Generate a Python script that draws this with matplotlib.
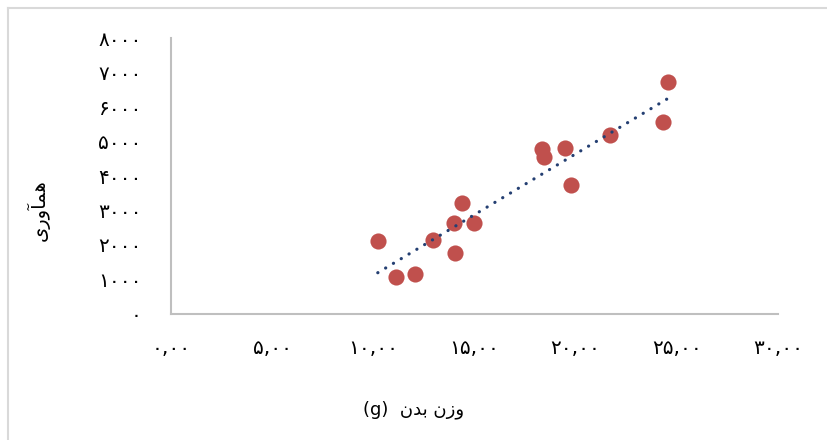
import numpy as np
import matplotlib.pyplot as plt
from matplotlib.lines import Line2D

# body weight (g) vs fecundity
body_weight = [10.22, 11.10, 12.06, 12.96, 13.99, 14.04, 14.37, 14.98,
               18.35, 18.42, 19.49, 19.77, 21.71, 24.30, 24.56]
fecundity = [2116, 1081, 1151, 2136, 2629, 1760, 3227, 2647,
             4783, 4560, 4804, 3748, 5189, 5557, 6726]

x_ticks = [0, 5, 10, 15, 20, 25, 30]
x_tick_labels = ["۰,۰۰", "۵,۰۰", "۱۰,۰۰", "۱۵,۰۰", "۲۰,۰۰", "۲۵,۰۰", "۳۰,۰۰"]
y_ticks = [0, 1000, 2000, 3000, 4000, 5000, 6000, 7000, 8000]
y_tick_labels = ["۰", "۱۰۰۰", "۲۰۰۰", "۳۰۰۰", "۴۰۰۰", "۵۰۰۰", "۶۰۰۰", "۷۰۰۰", "۸۰۰۰"]

# labels in visual order with presentation forms (no shaping in matplotlib)
x_label = "(g)  ﻥﺪﺑ ﻥﺯﻭ"
y_label = "ﯼﺭﻭﺂﻤﻫ"

plt.rcParams['font.family'] = ['DejaVu Sans']

fig = plt.figure(figsize=(8.27, 4.4), dpi=100)
ax = fig.add_axes([0.2068, 0.2864, 0.7339, 0.6272])

ax.scatter(body_weight, fecundity, s=135, color='#C0504D', zorder=3, linewidths=0)

# linear trendline
coef = np.polyfit(body_weight, fecundity, 1)
xs = np.array([min(body_weight), max(body_weight)])
ax.plot(xs, np.polyval(coef, xs), linestyle=(0, (0.05, 2.8)), color='#243F72',
        linewidth=2.3, dash_capstyle='round', zorder=4)

ax.set_xlim(0, 30)
ax.set_ylim(0, 8000)
ax.set_xticks(x_ticks)
ax.set_xticklabels(x_tick_labels, fontsize=14.5)
ax.set_yticks(y_ticks)
ax.set_yticklabels(y_tick_labels, fontsize=14.5)
ax.tick_params(length=0)
ax.tick_params(axis='x', pad=18)
ax.tick_params(axis='y', pad=21)

for s in ['top', 'right']:
    ax.spines[s].set_visible(False)
for s in ['left', 'bottom']:
    ax.spines[s].set_color('#BFBFBF')
    ax.spines[s].set_linewidth(1.5)

fig.text(0.5, 0.068, x_label, ha='center', va='center', fontsize=13)
fig.text(0.046, 0.522, y_label, ha='center', va='center', rotation=90, fontsize=14)

# outer border (top and left edges visible)
fig.add_artist(Line2D([8/827, 1], [1 - 8/440, 1 - 8/440], color='#D9D9D9', linewidth=1.5))
fig.add_artist(Line2D([8/827, 8/827], [0, 1 - 8/440], color='#D9D9D9', linewidth=1.5))

fig.savefig("out.png", dpi=100)
